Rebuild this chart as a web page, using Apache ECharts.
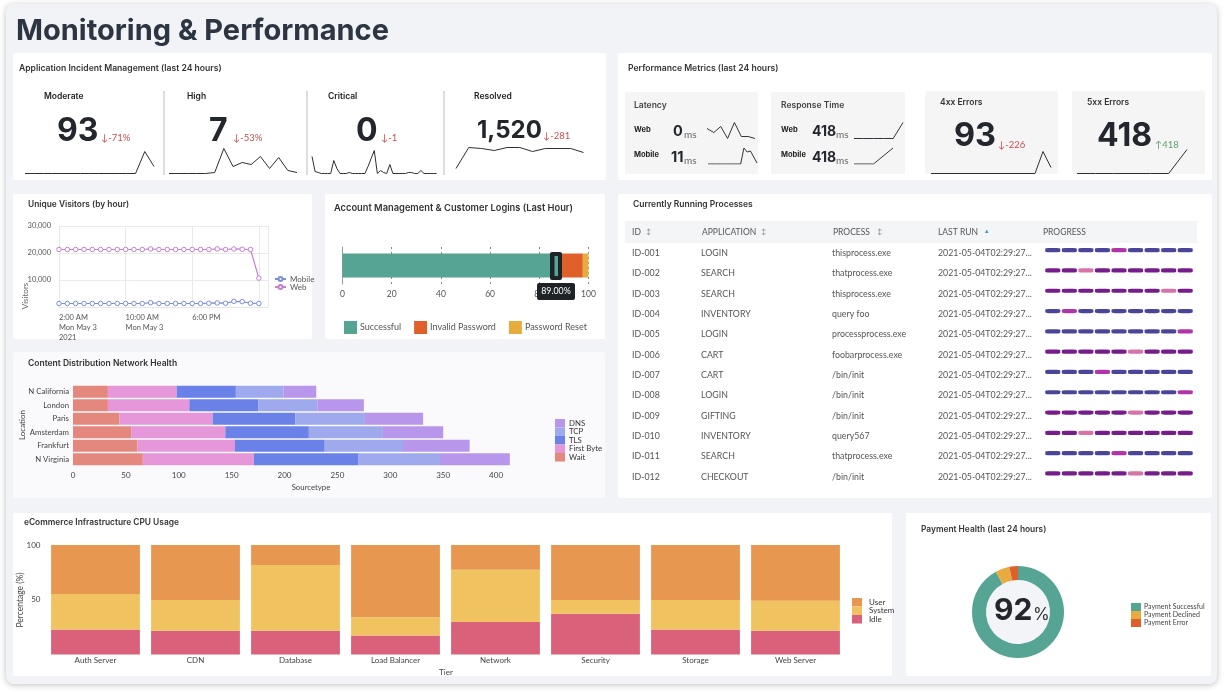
<!DOCTYPE html>
<html>
<head>
<meta charset="utf-8">
<title>Monitoring & Performance</title>
<script src="https://cdn.jsdelivr.net/npm/echarts@6/dist/echarts.min.js"></script>
<style>
	html, body { margin: 0; padding: 0; background: #fff; }
	#main { width: 1225px; height: 692px; }
</style>
</head>
<body>
<div id="main"></div>
<script>
// incident sparklines
var sparkModerate = [0, 0, 0, 0, 0, 0, 0, 0, 0, 0, 0, 0, 0, 22, 7];
var sparkHigh = [0, 0, 0, 0, 0, 1, 25, 7, 11, 9, 17, 5, 16, 3, 1];
var sparkCritical = [17, 2, 1, 0, 0, 0, 0, 13, 5, 0, 0, 0, 1, 0, 0, 0, 0, 0, 7, 15, 23, 0, 3, 1, 0, 9, 0, 0, 0, 0, 0, 1, 1, 0, 0, 3, 0, 0, 0, 0, 0];
var sparkResolved = [5, 26, 25, 23, 26, 26, 22, 25, 25, 25, 21];
// performance sparklines
var sparkLatencyWeb = [11, 7, 13, 1, 17, 3, 3, 1];
var sparkLatencyMobile = [0, 0, 0, 0, 0, 0, 0, 0, 0, 0, 0, 16, 12, 13, 7, 1];
var sparkResponseWeb = [0, 0, 0, 0, 0, 16];
var sparkResponseMobile = [0, 0, 16];
var spark4xx = [0, 0, 0, 0, 0, 0, 0, 0, 0, 0, 0, 0, 0, 0, 22, 6];
var spark5xx = [0, 0, 0, 0, 0, 0, 24];

// unique visitors
var visitorsMobile = [1300, 1300, 1300, 1300, 1300, 1300, 1300, 1300, 1300, 1300, 1300, 1600, 1300, 1300, 1300, 1300, 1300, 1300, 1400, 1500, 1400, 2100, 2000, 1400, 1300];
var visitorsWeb = [21300, 21300, 21300, 21300, 21300, 21300, 21300, 21300, 21300, 21300, 21300, 21500, 21300, 21300, 21300, 21300, 21300, 21300, 21300, 21500, 21300, 21500, 21400, 21300, 10700];
var visitorTicks = ['2:00 AM\nMon May 3\n2021', '10:00 AM\nMon May 3', '6:00 PM', ''];

// logins
var loginNames = ['Successful', 'Invalid Password', 'Password Reset'];
var loginValues = [89, 8.7, 2.3];
var loginColors = ['#56a494', '#e0602c', '#e8ac3e'];

// cdn health
var cdnLocations = ['N California', 'London', 'Paris', 'Amsterdam', 'Frankfurt', 'N Virginia'];
var cdnWait = [33, 33, 44, 55, 61, 66];
var cdnFirstByte = [65, 77, 88, 89, 92, 105];
var cdnTLS = [56, 65, 78, 79, 85, 99];
var cdnTCP = [45, 56, 66, 70, 74, 77];
var cdnDNS = [31, 44, 55, 57, 63, 66];

// processes table
var procIds = ['ID-001', 'ID-002', 'ID-003', 'ID-004', 'ID-005', 'ID-006', 'ID-007', 'ID-008', 'ID-009', 'ID-010', 'ID-011', 'ID-012'];
var procApps = ['LOGIN', 'SEARCH', 'SEARCH', 'INVENTORY', 'LOGIN', 'CART', 'CART', 'LOGIN', 'GIFTING', 'INVENTORY', 'SEARCH', 'CHECKOUT'];
var procNames = ['thisprocess.exe', 'thatprocess.exe', 'thisprocess.exe', 'query foo', 'processprocess.exe', 'foobarprocess.exe', '/bin/init', '/bin/init', '/bin/init', 'query567', 'thatprocess.exe', '/bin/init'];
var procLastRun = '2021-05-04T02:29:27...';
var procRowKind = [0, 1, 1, 0, 0, 1, 0, 0, 1, 1, 0, 1];
var procHighlight = [4, 2, 7, 1, 8, 5, 3, 8, 5, 2, 4, 5];

// cpu usage
var cpuTiers = ['Auth Server', 'CDN', 'Database', 'Load Balancer', 'Network', 'Security', 'Storage', 'Web Server'];
var cpuIdle = [22.9, 21.6, 21.6, 17.4, 29.6, 37.2, 22.9, 21.6];
var cpuSystem = [32.3, 28.1, 60.1, 16.7, 47.8, 12.5, 26.8, 27.5];
var cpuUser = [44.8, 50.3, 18.3, 65.9, 22.6, 50.3, 50.3, 50.9];

// payments
var paymentNames = ['Payment Successful', 'Payment Declined', 'Payment Error'];
var paymentValues = [92, 5, 3];
var paymentColors = ['#56a494', '#e8ac3e', '#e0602c'];

var HEAD = 'Inter, "Noto Sans", sans-serif';
var BODY = 'Lato, "Noto Sans", sans-serif';
var RED = '#c9504f';
var GREEN = '#5aa36b';
var INK = '#23272d';

var grids = [], xAxes = [], yAxes = [], series = [], legends = [], elements = [];

function panel(x0, y0, x1, y1, fill, r) {
	elements.push({
		type: 'rect', z: -5, silent: true,
		shape: { x: x0, y: y0, width: x1 - x0, height: y1 - y0, r: r === undefined ? 2 : r },
		style: { fill: fill || '#fff' }
	});
}

function t(x, y, str, size, weight, color, align, font, rotation) {
	elements.push({
		type: 'text', z: 50, silent: true, x: x, y: y, rotation: rotation || 0,
		style: {
			text: str, fontSize: size, fontWeight: weight || 400, fill: color || '#444',
			align: align || 'left', verticalAlign: 'middle', fontFamily: font || BODY
		}
	});
}

function addGrid(left, top, width, height, xAxis, yAxis) {
	var i = grids.length;
	grids.push({ left: left, top: top, width: width, height: height, containLabel: false });
	xAxis.gridIndex = i;
	yAxis.gridIndex = i;
	xAxes.push(xAxis);
	yAxes.push(yAxis);
	return i;
}

function spark(data, x0, x1, base, color) {
	var h = 30;
	var i = addGrid(x0, base - h, x1 - x0, h,
		{ type: 'category', show: false, boundaryGap: false, data: data.map(function(v, k) { return k; }) },
		{ type: 'value', show: false, min: 0, max: h });
	series.push({
		type: 'line', xAxisIndex: i, yAxisIndex: i, data: data, symbol: 'none', silent: true,
		lineStyle: { width: 1, color: color || '#2d2f33' }
	});
}

// page
elements.push({
	type: 'rect', z: -6, silent: true,
	shape: { x: 6, y: 4, width: 1211, height: 680, r: 8 },
	style: { fill: '#f1f3f7', shadowBlur: 6, shadowColor: 'rgba(0,0,0,0.25)', shadowOffsetY: 1 }
});
t(16, 31, 'Monitoring & Performance', 29, 700, '#2c3541', 'left', HEAD);

// panels
panel(13, 53, 606, 180);
panel(618, 53, 1212, 180);
panel(13, 194, 312, 339);
panel(325, 194, 605, 339);
panel(13, 352, 605, 498, '#fafafc');
panel(618, 194, 1212, 498);
panel(13, 513, 892, 676);
panel(906, 513, 1211, 676);

// Application Incident Management
t(19, 68, 'Application Incident Management (last 24 hours)', 8.6, 600, '#333', 'left', HEAD);
[164, 307, 444].forEach(function(x) {
	elements.push({ type: 'line', z: 1, silent: true, shape: { x1: x, y1: 91, x2: x, y2: 175 }, style: { stroke: '#bbb', lineWidth: 1 } });
});
t(44, 96, 'Moderate', 8.5, 600, '#222', 'left', HEAD);
t(187, 96, 'High', 8.5, 600, '#222', 'left', HEAD);
t(328, 96, 'Critical', 8.5, 600, '#222', 'left', HEAD);
t(474, 96, 'Resolved', 8.5, 600, '#222', 'left', HEAD);
t(57, 131, '93', 32, 700, INK, 'left', HEAD);
t(209, 131, '7', 32, 700, INK, 'left', HEAD);
t(356, 131, '0', 32, 700, INK, 'left', HEAD);
t(477, 131, '1,520', 24, 700, INK, 'left', HEAD);
t(101, 138, '↓-71%', 9.5, 400, RED);
t(233, 138, '↓-53%', 9.5, 400, RED);
t(381, 138, '↓-1', 9.5, 400, RED);
t(543, 136, '↓-281', 9.5, 400, RED);
spark(sparkModerate, 25, 154, 173.5);
spark(sparkHigh, 169, 297, 173.5);
spark(sparkCritical, 312, 436.5, 173.5);
spark(sparkResolved, 456, 583.5, 173.5);

// Performance Metrics
t(628, 68, 'Performance Metrics (last 24 hours)', 8.6, 600, '#333', 'left', HEAD);
panel(625, 92, 758, 174, '#f5f5f6');
panel(771, 92, 905, 174, '#f5f5f6');
panel(925, 91, 1058, 174, '#f5f5f6');
panel(1072, 91, 1205, 174, '#f5f5f6');
t(634, 105, 'Latency', 8.5, 600, '#444', 'left', HEAD);
t(781, 105, 'Response Time', 8.5, 600, '#444', 'left', HEAD);
t(940, 102, '4xx Errors', 8.5, 600, '#333', 'left', HEAD);
t(1087, 102, '5xx Errors', 8.5, 600, '#333', 'left', HEAD);
t(634, 130, 'Web', 7.5, 700, '#222', 'left', HEAD);
t(634, 155, 'Mobile', 7.5, 700, '#222', 'left', HEAD);
t(781, 130, 'Web', 7.5, 700, '#222', 'left', HEAD);
t(781, 155, 'Mobile', 7.5, 700, '#222', 'left', HEAD);
t(673, 132, '0', 14.5, 700, INK, 'left', HEAD);
t(684, 135, 'ms', 10, 400, '#666');
t(671, 158, '11', 14.5, 700, INK, 'left', HEAD);
t(684, 161, 'ms', 10, 400, '#666');
t(812, 132, '418', 14, 700, INK, 'left', HEAD);
t(836, 135, 'ms', 10, 400, '#666');
t(812, 158, '418', 14, 700, INK, 'left', HEAD);
t(836, 161, 'ms', 10, 400, '#666');
t(954, 136, '93', 32.5, 700, INK, 'left', HEAD);
t(998, 145, '↓-226', 9.5, 400, RED);
t(1097, 136, '418', 32, 700, INK, 'left', HEAD);
t(1155, 145, '↑418', 9.5, 400, GREEN);
spark(sparkLatencyWeb, 707, 755, 139.5, '#33353a');
spark(sparkLatencyMobile, 708, 757, 164, '#33353a');
spark(sparkResponseWeb, 854, 903, 138.5, '#33353a');
spark(sparkResponseMobile, 854, 893, 164, '#33353a');
spark(spark4xx, 931, 1051, 173.5);
spark(spark5xx, 1077, 1187, 173.5);

// Unique Visitors
t(28, 204, 'Unique Visitors (by hour)', 8.4, 600, '#333', 'left', HEAD);
t(25, 296, 'Visitors', 8, 400, '#666', 'center', BODY, Math.PI / 2);
var gVisit = addGrid(59, 226, 209, 81,
	{
		type: 'value', min: 0, max: 25.1, interval: 8,
		axisLine: { show: true, lineStyle: { color: '#e6e6e6' } }, axisTick: { show: false },
		splitLine: { show: true, lineStyle: { color: '#eaeaea' } },
		axisLabel: {
			fontSize: 7.5, color: '#555', fontFamily: BODY, lineHeight: 10, margin: 6, align: 'left',
			showMaxLabel: false,
			formatter: function(v) { return visitorTicks[v / 8] || ''; }
		}
	},
	{
		type: 'value', min: 0, max: 30000, interval: 10000,
		axisLine: { show: true, lineStyle: { color: '#e6e6e6' } }, axisTick: { show: false },
		splitLine: { lineStyle: { color: '#eaeaea' } },
		axisLabel: {
			fontSize: 7.5, color: '#555', fontFamily: BODY, margin: 8,
			formatter: function(v) { return v === 0 ? '' : v.toLocaleString('en-US'); }
		}
	});
[['Mobile', visitorsMobile, '#7b8fd8'], ['Web', visitorsWeb, '#c77fd6']].forEach(function(s) {
	series.push({
		name: s[0], type: 'line', xAxisIndex: gVisit, yAxisIndex: gVisit,
		data: s[1].map(function(v, i) { return [i, v]; }),
		symbol: 'circle', symbolSize: 4.5, silent: true,
		lineStyle: { width: 1.2, color: s[2] },
		itemStyle: { color: '#fff', borderColor: s[2], borderWidth: 1 }
	});
});
legends.push({
	data: ['Mobile', 'Web'], left: 274, top: 275, orient: 'vertical', itemGap: 0, itemWidth: 11, itemHeight: 5,
	padding: 0, selectedMode: false, textStyle: { fontSize: 8, color: '#555', fontFamily: BODY, padding: [0, 0, 0, -1] }
});

// Account Management
t(334, 208, 'Account Management & Customer Logins (Last Hour)', 9.3, 600, '#333', 'left', HEAD);
var gLogin = addGrid(342.5, 247, 246, 37,
	{
		type: 'value', min: 0, max: 100, interval: 20,
		axisLine: { show: false }, axisTick: { show: false },
		splitLine: { show: true, lineStyle: { color: '#888', type: [2, 3] } },
		axisLabel: { fontSize: 8.5, color: '#555', fontFamily: BODY, margin: 6 }
	},
	{ type: 'category', data: ['Logins'], axisLine: { show: true, lineStyle: { color: '#999' } }, axisTick: { show: false }, axisLabel: { show: false } });
loginNames.forEach(function(name, i) {
	series.push({
		name: name, type: 'bar', stack: 'logins', xAxisIndex: gLogin, yAxisIndex: gLogin, silent: true,
		data: [loginValues[i]], barWidth: 24, itemStyle: { color: loginColors[i] }
	});
});
legends.push({
	data: loginNames, left: 344, top: 321, itemGap: 13, itemWidth: 13, itemHeight: 13, icon: 'rect',
	padding: 0, selectedMode: false, textStyle: { fontSize: 9, color: '#555', fontFamily: BODY, padding: [0, 0, 0, -2] }
});
elements.push({ type: 'rect', z: 40, silent: true, shape: { x: 550, y: 252, width: 12, height: 28, r: 2 }, style: { fill: '#1f2328' } });
elements.push({ type: 'rect', z: 41, silent: true, shape: { x: 554.5, y: 256, width: 3.5, height: 20 }, style: { fill: '#56a494' } });
elements.push({ type: 'rect', z: 40, silent: true, shape: { x: 537, y: 283, width: 38, height: 17, r: 2 }, style: { fill: '#1f2328' } });
t(556, 291.5, '89.00%', 8.8, 400, '#fff', 'center');

// CDN
t(28, 363, 'Content Distribution Network Health', 8.5, 600, '#333', 'left', HEAD);
t(22, 425, 'Location', 8, 400, '#444', 'center', BODY, Math.PI / 2);
var gCdn = addGrid(73, 385, 440, 81,
	{
		type: 'value', min: 0, max: 416, interval: 50,
		axisLine: { show: false }, axisTick: { show: false }, splitLine: { show: false },
		axisLabel: { fontSize: 8, color: '#444', fontFamily: BODY, margin: 5, showMaxLabel: false }
	},
	{
		type: 'category', inverse: true, data: cdnLocations,
		axisLine: { show: false }, axisTick: { show: false },
		axisLabel: { fontSize: 7.8, color: '#444', fontFamily: BODY, margin: 4 }
	});
t(311, 487, 'Sourcetype', 7.8, 400, '#444', 'center');
[['Wait', cdnWait, '#e4877c'], ['First Byte', cdnFirstByte, '#e597da'], ['TLS', cdnTLS, '#6a82e8'], ['TCP', cdnTCP, '#9fa9ee'], ['DNS', cdnDNS, '#b896ec']].forEach(function(s) {
	series.push({
		name: s[0], type: 'bar', stack: 'cdn', xAxisIndex: gCdn, yAxisIndex: gCdn, silent: true,
		data: s[1], barCategoryGap: '12%', itemStyle: { color: s[2] }
	});
});
legends.push({
	data: ['DNS', 'TCP', 'TLS', 'First Byte', 'Wait'], left: 555, top: 419, orient: 'vertical', itemGap: 0, itemWidth: 10, itemHeight: 8.5,
	icon: 'rect', padding: 0, selectedMode: false, textStyle: { fontSize: 7.8, color: '#333', fontFamily: BODY, padding: [0, 0, 0, -1] }
});

// Processes
t(633, 204, 'Currently Running Processes', 8.5, 600, '#333', 'left', HEAD);
panel(625, 221, 1197, 243, '#f4f5f7', 0);
t(632, 232, 'ID', 8.5, 400, '#555');
t(646, 232, '↕', 7, 400, '#888');
t(702, 232, 'APPLICATION', 8.5, 400, '#555');
t(761, 232, '↕', 7, 400, '#888');
t(833, 232, 'PROCESS', 8.5, 400, '#555');
t(877, 232, '↕', 7, 400, '#888');
t(938, 232, 'LAST RUN', 8.5, 400, '#555');
t(985, 231, '▴', 7, 400, '#4a90d9');
t(1043, 232, 'PROGRESS', 8.5, 400, '#555');
procIds.forEach(function(id, i) {
	var y = 253 + i * 20.35;
	t(632, y, id, 8.8, 400, '#555');
	t(701, y, procApps[i], 8.8, 400, '#555');
	t(832, y, procNames[i], 8.8, 400, '#555');
	t(938, y, procLastRun, 8.8, 400, '#555');
});
var progressPoints = [];
procIds.forEach(function(id, row) {
	for (var c = 0; c < 9; c++) {
		var hi = procHighlight[row] === c;
		var color = procRowKind[row] === 0 ? (hi ? '#b035a8' : '#4a4599') : (hi ? '#d873a8' : '#761d8b');
		progressPoints.push({ value: [c, row], itemStyle: { color: color, opacity: 1 } });
	}
});
var gProg = addGrid(1044.5, 240, 149, 243.6,
	{ type: 'category', show: false, data: [0, 1, 2, 3, 4, 5, 6, 7, 8] },
	{ type: 'category', show: false, inverse: true, data: procIds });
series.push({
	type: 'scatter', xAxisIndex: gProg, yAxisIndex: gProg, silent: true, data: progressPoints,
	symbol: 'roundRect', symbolSize: [15, 4.2]
});

// CPU
t(24, 522, 'eCommerce Infrastructure CPU Usage', 8.4, 600, '#333', 'left', HEAD);
t(20, 600, 'Percentage (%)', 8.5, 400, '#444', 'center', BODY, Math.PI / 2);
var gCpu = addGrid(45.5, 545, 800, 109.5,
	{
		type: 'category', data: cpuTiers,
		axisLine: { show: false }, axisTick: { show: false },
		axisLabel: { fontSize: 8, color: '#444', fontFamily: BODY, margin: 2, interval: 0 }
	},
	{
		type: 'value', min: 0, max: 100, interval: 50,
		axisLine: { show: false }, axisTick: { show: false }, splitLine: { show: false },
		axisLabel: { fontSize: 8, color: '#444', fontFamily: BODY, margin: 5, formatter: function(v) { return v === 0 ? '' : v; } }
	});
t(446, 672.5, 'Tier', 8, 400, '#444', 'center');
[['Idle', cpuIdle, '#d9617a'], ['System', cpuSystem, '#f0c360'], ['User', cpuUser, '#e7974f']].forEach(function(s) {
	series.push({
		name: s[0], type: 'bar', stack: 'cpu', xAxisIndex: gCpu, yAxisIndex: gCpu, silent: true,
		data: s[1], barCategoryGap: '11.2%', itemStyle: { color: s[2] }
	});
});
legends.push({
	data: ['User', 'System', 'Idle'], left: 852, top: 598, orient: 'vertical', itemGap: 0, itemWidth: 10, itemHeight: 8.5,
	icon: 'rect', padding: 0, selectedMode: false, textStyle: { fontSize: 8, color: '#333', fontFamily: BODY, padding: [0, 0, 0, 2] }
});

// Payment
t(921, 529, 'Payment Health (last 24 hours)', 8.4, 600, '#333', 'left', HEAD);
elements.push({ type: 'circle', z: -1, silent: true, shape: { cx: 1018, cy: 612, r: 32 }, style: { fill: '#f3f4f8' } });
series.push({
	type: 'pie', center: [1018, 612], radius: [32, 46], startAngle: 90, silent: true,
	label: { show: false }, labelLine: { show: false },
	data: paymentNames.map(function(name, i) {
		return { name: name, value: paymentValues[i], itemStyle: { color: paymentColors[i] } };
	})
});
t(994, 611, '92', 30, 700, INK, 'left', HEAD);
t(1033, 615, '%', 17, 400, '#333', 'left', HEAD);
legends.push({
	data: paymentNames, left: 1131, top: 603, orient: 'vertical', itemGap: 0, itemWidth: 10, itemHeight: 8,
	icon: 'rect', padding: 0, selectedMode: false, textStyle: { fontSize: 7, color: '#444', fontFamily: BODY, padding: [0, 0, 0, -2] }
});

var myChart = echarts.init(document.getElementById('main'));
myChart.setOption({
	animation: false,
	backgroundColor: '#fff',
	grid: grids,
	xAxis: xAxes,
	yAxis: yAxes,
	legend: legends,
	series: series,
	graphic: { elements: elements }
});
</script>
</body>
</html>
